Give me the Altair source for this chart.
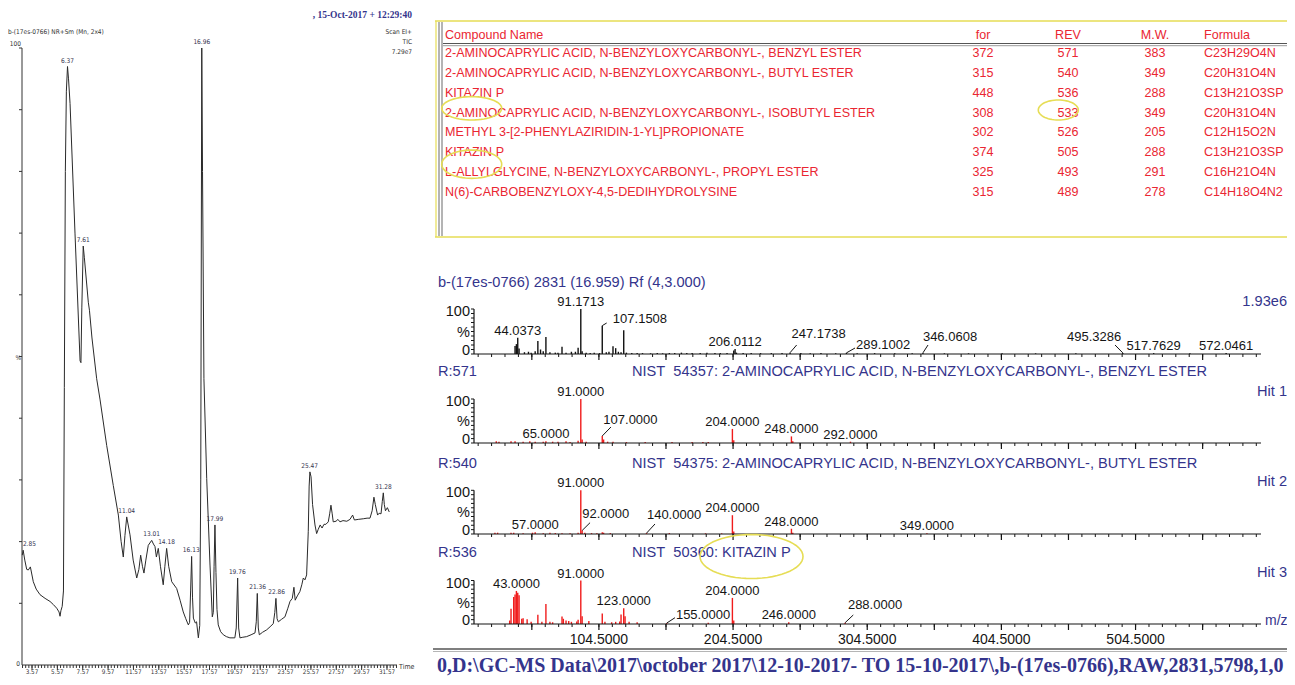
import math
import altair as alt
import pandas as pd

# ---------------------------------------------------------------- data
# TIC chromatogram trace (time in min, relative intensity %)
tic_points = [
    (2.80, 17.8), (2.87, 18.6), (3.00, 17.0), (3.15, 15.5), (3.28, 15.4), (3.44, 15.9),
    (3.67, 13.5), (3.90, 12.3), (4.20, 11.4), (4.60, 10.8), (4.99, 10.3), (5.25, 9.8),
    (5.52, 9.2), (5.70, 8.6), (5.78, 7.9), (5.85, 8.8), (5.95, 9.5), (6.05, 12.0),
    (6.12, 45.0), (6.20, 80.0), (6.28, 93.0), (6.37, 97.0), (6.45, 95.0), (6.57, 91.0),
    (6.96, 70.0), (7.36, 49.3), (7.43, 49.0), (7.50, 58.0), (7.61, 67.9), (7.70, 66.0),
    (8.01, 58.8), (8.10, 57.5), (8.30, 53.0), (8.67, 46.4), (8.93, 43.1), (9.46, 35.6),
    (9.98, 29.1), (10.38, 24.3), (10.60, 20.0), (10.77, 17.5), (10.90, 21.0), (11.04, 24.0),
    (11.30, 21.1), (11.55, 17.0), (11.83, 14.1), (12.00, 15.5), (12.14, 17.8), (12.28, 16.0),
    (12.40, 14.9), (12.55, 17.0), (12.74, 19.4), (13.01, 20.2), (13.15, 19.6), (13.27, 19.2),
    (13.38, 17.5), (13.53, 18.9), (13.70, 16.0), (13.92, 13.0), (14.05, 16.0), (14.19, 18.9),
    (14.35, 16.0), (14.59, 13.5), (14.98, 12.4), (15.25, 10.5), (15.50, 8.6), (15.70, 7.5),
    (15.90, 6.5), (16.00, 6.9), (16.08, 12.0), (16.16, 17.6), (16.23, 11.0), (16.30, 7.6),
    (16.45, 6.8), (16.55, 7.0), (16.69, 4.4), (16.80, 6.4), (16.88, 30.0), (16.96, 100.0),
    (17.02, 80.0), (17.13, 46.4), (17.35, 30.2), (17.61, 16.2), (17.79, 7.8), (17.87, 8.5),
    (17.93, 16.0), (18.00, 22.7), (18.08, 15.0), (18.16, 9.0), (18.26, 6.5), (18.45, 5.4),
    (18.66, 4.9), (18.90, 4.6), (19.18, 4.4), (19.57, 4.4), (19.68, 6.0), (19.79, 14.1),
    (19.87, 6.0), (19.97, 4.4), (20.20, 4.5), (20.50, 4.6), (20.85, 4.9), (21.16, 5.2),
    (21.26, 7.0), (21.34, 11.6), (21.42, 6.0), (21.50, 4.9), (21.75, 5.3), (22.08, 5.7),
    (22.35, 6.2), (22.60, 6.7), (22.72, 8.5), (22.81, 10.8), (22.90, 7.5), (23.00, 7.0),
    (23.25, 7.4), (23.52, 7.8), (23.75, 9.2), (23.92, 10.3), (24.10, 10.8), (24.23, 12.6),
    (24.33, 10.5), (24.50, 11.2), (24.70, 11.9), (24.85, 13.0), (24.97, 14.1), (25.10, 13.8),
    (25.23, 14.6), (25.36, 21.6), (25.43, 29.0), (25.49, 31.3), (25.58, 30.5), (25.70, 26.0),
    (25.89, 22.7), (26.02, 21.3), (26.15, 22.0), (26.30, 22.7), (26.45, 22.2), (26.60, 22.8),
    (26.75, 22.8), (26.94, 23.2), (27.05, 24.5), (27.15, 25.9), (27.25, 24.5), (27.33, 23.2),
    (27.55, 23.3), (27.70, 23.6), (27.86, 23.2), (28.10, 23.4), (28.40, 23.3), (28.65, 23.6),
    (28.86, 24.3), (29.00, 23.5), (29.30, 23.6), (29.70, 23.7), (30.00, 23.8), (30.23, 23.8),
    (30.40, 25.0), (30.54, 27.2), (30.65, 26.0), (30.83, 24.3), (30.95, 24.6), (31.10, 24.5),
    (31.20, 26.5), (31.28, 27.9), (31.36, 26.0), (31.45, 25.0), (31.60, 25.5), (31.75, 24.8),
]
tic_time = [t for t, _ in tic_points]
tic_pct = [p for _, p in tic_points]

peak_times = [2.85, 6.37, 7.61, 11.04, 13.01, 14.18, 16.13, 16.96, 17.99, 19.76, 21.36, 22.86, 25.47, 31.28]
peak_heights = [18.6, 97.0, 67.9, 24.0, 20.2, 18.9, 17.6, 100.0, 22.7, 14.1, 11.6, 10.8, 31.3, 27.9]

# library search hit table
hit_names = [
    "2-AMINOCAPRYLIC ACID, N-BENZYLOXYCARBONYL-, BENZYL ESTER",
    "2-AMINOCAPRYLIC ACID, N-BENZYLOXYCARBONYL-, BUTYL ESTER",
    "KITAZIN P",
    "2-AMINOCAPRYLIC ACID, N-BENZYLOXYCARBONYL-, ISOBUTYL ESTER",
    "METHYL 3-[2-PHENYLAZIRIDIN-1-YL]PROPIONATE",
    "KITAZIN P",
    "L-ALLYLGLYCINE, N-BENZYLOXYCARBONYL-, PROPYL ESTER",
    "N(6)-CARBOBENZYLOXY-4,5-DEDIHYDROLYSINE",
]
hit_for = [372, 315, 448, 308, 302, 374, 325, 315]
hit_rev = [571, 540, 536, 533, 526, 505, 493, 489]
hit_mw = [383, 349, 288, 349, 205, 288, 291, 278]
hit_formula = ["C23H29O4N", "C20H31O4N", "C13H21O3SP", "C20H31O4N",
               "C12H15O2N", "C13H21O3SP", "C16H21O4N", "C14H18O4N2"]

# mass spectra (m/z, relative intensity %)
sample_spec = [
    (42, 18), (43, 22), (44, 36), (45, 12), (49, 4), (52, 5), (54, 3), (57, 6), (59, 29),
    (61, 10), (63, 6), (65, 38), (68, 4), (72, 3), (74, 3), (77, 16), (80, 3), (84, 5),
    (87, 5), (89, 14), (91, 100), (92, 6), (95, 3), (98, 2), (101, 3), (105, 2), (107, 63),
    (110, 4), (112, 5), (115, 17), (117, 13), (119, 5), (121, 4), (123, 53), (125, 3),
    (129, 2), (133, 2), (137, 2), (143, 1.5), (148, 2), (152, 1.5), (157, 2), (161, 2),
    (166, 3), (170, 2), (174, 2), (180, 2), (185, 3), (191, 2), (195, 2), (200, 2),
    (205, 8), (206, 11), (207, 3), (212, 2), (218, 2), (225, 2), (233, 2), (241, 2),
    (247, 3), (255, 2), (262, 1.5), (270, 2), (281, 1.5), (289, 2.5), (297, 1.5), (310, 2),
    (325, 1.5), (338, 1.5), (346, 2.5), (362, 1.5), (380, 1.5), (405, 1.5), (430, 1.5),
    (460, 1.5), (495, 2.5), (518, 2), (545, 1.5), (572, 2),
]
hit1_spec = [
    (28, 4), (30, 3), (39, 4), (42, 4), (48, 3), (53, 4), (57, 3), (63, 3), (65, 4),
    (70, 3), (74, 3), (80, 4), (83, 2), (89, 5), (91, 100), (92, 8), (95, 3), (107, 16),
    (108, 8), (111, 3), (115, 3), (125, 2), (139, 2), (159, 2), (174, 2), (182, 2),
    (186, 2), (204, 32), (205, 6), (248, 15), (249, 4), (292, 3),
]
hit2_spec = [
    (27, 3), (29, 3), (39, 3), (41, 3), (48, 2), (55, 3), (57, 4), (63, 2), (68, 3),
    (72, 2), (77, 2), (83, 2), (89, 3), (91, 100), (92, 8), (94, 3), (99, 2), (103, 2),
    (107, 4), (108, 3), (113, 2), (140, 2), (157, 2), (184, 1.5), (196, 1.5), (204, 43),
    (205, 6), (248, 12), (249, 3), (349, 2),
]
hit3_spec = [
    (38, 8), (39, 35), (41, 62), (42, 68), (43, 76), (44, 72), (45, 66), (47, 12), (48, 13),
    (51, 11), (54, 5), (59, 21), (62, 5), (65, 46), (68, 5), (70, 4), (77, 17), (78, 12),
    (80, 8), (82, 7), (84, 5), (88, 6), (89, 10), (91, 100), (92, 18), (97, 7), (107, 24),
    (109, 5), (114, 4), (117, 5), (120, 6), (121, 22), (123, 36), (124, 18), (127, 5),
    (133, 4), (155, 2), (186, 3), (204, 60), (205, 8), (246, 4), (288, 3),
]

# peak annotations (label, m/z, intensity)
sample_labels = [("44.0373", 44, 36), ("91.1713", 91, 100), ("107.1508", 107, 63),
                 ("206.0112", 206, 11), ("247.1738", 247, 3), ("289.1002", 289, 2.5),
                 ("346.0608", 346, 2.5), ("495.3286", 495, 2.5), ("517.7629", 518, 2),
                 ("572.0461", 572, 2)]
hit1_labels = [("65.0000", 65, 4), ("91.0000", 91, 100), ("107.0000", 107, 16),
               ("204.0000", 204, 32), ("248.0000", 248, 15), ("292.0000", 292, 3)]
hit2_labels = [("57.0000", 57, 4), ("91.0000", 91, 100), ("92.0000", 92, 8),
               ("140.0000", 140, 2), ("204.0000", 204, 43), ("248.0000", 248, 12),
               ("349.0000", 349, 2)]
hit3_labels = [("43.0000", 43, 76), ("91.0000", 91, 100), ("123.0000", 123, 36),
               ("155.0000", 155, 2), ("204.0000", 204, 60), ("246.0000", 246, 4),
               ("288.0000", 288, 3)]

# ---------------------------------------------------------------- layout / style
OX, OY = 8, 8
W, H = 1279, 669
SANS = "Liberation Sans, Arial, sans-serif"
NARROW = "Liberation Sans Narrow, DejaVu Sans Condensed, Liberation Sans, sans-serif"
SERIF = "Liberation Serif, Times New Roman, serif"
NAVY = "#34348c"
RED_TXT = "#ea2632"
RED_BAR = "#f01c1c"
YELLOW = "#e6dd55"
INK = "#151515"
NAVY_FS = 14.6

# displaced labels: label -> (label x m/z, label y %, leader end m/z, leader end %)
LEADER_LAYOUT = {
    "sample": {"107.1508": (135.1, 77.8, 110.3, 68.9), "247.1738": (268.2, 44.4, 251.9, 20),
               "289.1002": (316.3, 20.0, 295.4, 13.3), "346.0608": (366.2, 37.8, 349.8, 20),
               "495.3286": (473.6, 37.8, 489.2, 20)},
    "hit1": {"107.0000": (128.0, 52.3, 113.5, 36.4)},
    "hit2": {"92.0000": (109.6, 45.8, 97.9, 25.9), "140.0000": (160.5, 43.5, 146.3, 22.9)},
    "hit3": {"155.0000": (182.1, 20.7, 161.2, 14.5), "288.0000": (310.3, 43.7, 294.1, 20.7)},
}


def px(x):
    return x - OX


def py(y):
    return y - OY


ONE = pd.DataFrame({"k": [0]})


def text_at(s, x, y, size, color=INK, align="left", font=SANS, weight="normal", baseline="middle"):
    return alt.Chart(ONE).mark_text(text=s, align=align, baseline=baseline, fontSize=size,
                                    font=font, fontWeight=weight, color=color).encode(
        x=alt.value(px(x)), y=alt.value(py(y)))


def hline(x1, x2, y, color, w):
    return alt.Chart(ONE).mark_rule(color=color, strokeWidth=w).encode(
        x=alt.value(px(x1)), x2=alt.value(px(x2)), y=alt.value(py(y)))


def vline(x, y1, y2, color, w):
    return alt.Chart(ONE).mark_rule(color=color, strokeWidth=w).encode(
        x=alt.value(px(x)), y=alt.value(py(y1)), y2=alt.value(py(y2)))


def ellipse(cx, cy, w, h):
    r = h / w
    n = 60
    pts = [(math.cos(2 * math.pi * i / n), r * math.sin(2 * math.pi * i / n)) for i in range(n)]
    path = "M" + " L".join(f"{a:.4f},{b:.4f}" for a, b in pts) + " Z"
    return alt.Chart(ONE).mark_point(shape=path, size=w * w, filled=False, color=YELLOW,
                                     strokeWidth=1.6, opacity=1).encode(
        x=alt.value(px(cx)), y=alt.value(py(cy)))


# ---------------------------------------------------------------- chromatogram
T_MIN, T_MAX = 2.78, 32.36
cxs = alt.Scale(domain=[T_MIN, T_MAX], range=[px(22), px(397)], nice=False, zero=False)
cys = alt.Scale(domain=[0, 100], range=[py(665), py(48)], nice=False, zero=False)


def CX(f):
    return alt.X(f, type="quantitative", scale=cxs, axis=None)


def CY(f):
    return alt.Y(f, type="quantitative", scale=cys, axis=None)


tic_df = pd.DataFrame({"t": tic_time, "p": tic_pct})
c_line = alt.Chart(tic_df).mark_line(color="#2a2a2a", strokeWidth=1).encode(x=CX("t"), y=CY("p"))
c_axes_df = pd.DataFrame({"t0": [T_MIN], "t1": [T_MAX], "p0": [0], "p1": [100]})
c_yaxis = alt.Chart(c_axes_df).mark_rule(color="#333", strokeWidth=1).encode(
    x=CX("t0"), y=CY("p0"), y2=alt.Y2("p1"))
c_xaxis = alt.Chart(c_axes_df).mark_rule(color="#333", strokeWidth=1).encode(
    x=CX("t0"), x2=alt.X2("t1"), y=CY("p0"))
c_yt = pd.DataFrame({"t": T_MIN, "p": list(range(10, 101, 10))})
c_yticks = alt.Chart(c_yt).mark_tick(orient="horizontal", size=3, thickness=1, xOffset=-1.5,
                                     color="#333", opacity=1).encode(x=CX("t"), y=CY("p"))
c_minor = pd.DataFrame({"t": [2.82 + 0.25 * k for k in range(119)], "p": 0})
c_xminor = alt.Chart(c_minor).mark_tick(orient="vertical", size=3, thickness=1, yOffset=1.5,
                                        color="#333", opacity=1).encode(x=CX("t"), y=CY("p"))
c_major_vals = [3.57 + 2 * k for k in range(15)]
c_major = pd.DataFrame({"t": c_major_vals, "p": 0, "lab": [f"{v:.2f}" for v in c_major_vals]})
c_xmajor = alt.Chart(c_major).mark_tick(orient="vertical", size=5, thickness=1, yOffset=2.5,
                                        color="#333", opacity=1).encode(x=CX("t"), y=CY("p"))
c_xlabels = alt.Chart(c_major).mark_text(fontSize=6.3, font=NARROW, color="#333", dy=7,
                                         baseline="middle").encode(x=CX("t"), y=CY("p"), text="lab:N")
pk_df = pd.DataFrame({"t": peak_times, "p": peak_heights, "lab": [f"{v:.2f}" for v in peak_times]})
c_peaks = alt.Chart(pk_df[pk_df.t > 3]).mark_text(fontSize=6.5, font=NARROW, color="#34344f", dy=-6,
                                                  baseline="middle").encode(x=CX("t"), y=CY("p"), text="lab:N")
c_peak_first = alt.Chart(pk_df[pk_df.t <= 3]).mark_text(fontSize=6.5, font=NARROW, color="#34344f",
                                                        dy=-6, align="left",
                                                        baseline="middle").encode(
    x=CX("t"), y=CY("p"), text="lab:N")

chrom = alt.layer(c_line, c_yaxis, c_xaxis, c_yticks, c_xminor, c_xmajor, c_xlabels, c_peaks, c_peak_first)

chrom_texts = [
    text_at("b-(17es-0766) NR+Sm (Mn, 2x4)", 8, 32, 6.5, "#333", font=NARROW),
    text_at(", 15-Oct-2017 + 12:29:40", 412, 15, 9.5, NAVY, align="right", font=SERIF, weight="bold"),
    text_at("Scan EI+", 412, 32, 6.5, "#333", align="right", font=NARROW),
    text_at("TIC", 412, 42, 6.5, "#333", align="right", font=NARROW),
    text_at("7.29e7", 412, 52, 6.5, "#333", align="right", font=NARROW),
    text_at("100", 21, 44, 6.5, "#333", align="right", font=NARROW),
    text_at("%", 21, 358, 6.5, "#333", align="right", font=NARROW),
    text_at("0", 20, 664, 6.5, "#333", align="right", font=NARROW),
    text_at("Time", 399, 667, 7, "#333", font=NARROW),
]

# ---------------------------------------------------------------- hit table
tys = alt.Scale(domain=[0, 7], range=[py(53.3), py(191.7)], nice=False, zero=False)
tdf = pd.DataFrame({"row": list(range(8)), "name": hit_names,
                    "fo": [str(v) for v in hit_for], "rev": [str(v) for v in hit_rev],
                    "mw": [str(v) for v in hit_mw], "formula": hit_formula})
TFS = 12.55


def tcol(field, x, align):
    return alt.Chart(tdf).mark_text(align=align, baseline="middle", fontSize=TFS, font=SANS,
                                    color=RED_TXT).encode(
        x=alt.value(px(x)), y=alt.Y("row:Q", scale=tys, axis=None), text=f"{field}:N")


table = alt.layer(tcol("name", 445, "left"), tcol("fo", 983, "center"), tcol("rev", 1068, "center"),
                  tcol("mw", 1155, "center"), tcol("formula", 1204, "left"))
table_texts = [
    text_at("Compound Name", 445, 35, TFS, RED_TXT),
    text_at("for", 983, 35, TFS, RED_TXT, align="center"),
    text_at("REV", 1068, 35, TFS, RED_TXT, align="center"),
    text_at("M.W.", 1155, 35, TFS, RED_TXT, align="center"),
    text_at("Formula", 1204, 35, TFS, RED_TXT),
]
table_frame = [
    hline(435, 1295, 21, YELLOW, 1.6),
    hline(435, 1295, 237, YELLOW, 1.6),
    vline(436, 21, 237, YELLOW, 1.2),
    vline(439, 22, 236, "#8c8c8c", 1.3),
    vline(442, 22, 236, "#8c8c8c", 1.3),
    hline(443, 1295, 43.5, "#555", 1.2),
    hline(443, 1295, 45.7, "#9a9a9a", 1.0),
]

# ---------------------------------------------------------------- spectra
MZ_MIN, MZ_MAX = 11.4, 598.0
mzs = alt.Scale(domain=[MZ_MIN, MZ_MAX], range=[px(474), px(1261)], nice=False, zero=False)


def spectrum_panel(points, labels, layout, color, base, top, xlabels=False):
    ys = alt.Scale(domain=[0, 100], range=[py(base), py(top)], nice=False, zero=False)

    def X(f):
        return alt.X(f, type="quantitative", scale=mzs, axis=None)

    def Y(f):
        return alt.Y(f, type="quantitative", scale=ys, axis=None)

    bdf = pd.DataFrame(points, columns=["mz", "h"])
    bdf["z"] = 0
    bars = alt.Chart(bdf).mark_rule(color=color, strokeWidth=1.4).encode(x=X("mz"), y=Y("h"), y2=alt.Y2("z"))
    adf = pd.DataFrame({"x0": [MZ_MIN], "x1": [MZ_MAX], "y0": [0], "y1": [100]})
    xaxis = alt.Chart(adf).mark_rule(color=INK, strokeWidth=1.2).encode(x=X("x0"), x2=alt.X2("x1"), y=Y("y0"))
    yaxis = alt.Chart(adf).mark_rule(color=INK, strokeWidth=1.2).encode(x=X("x0"), y=Y("y0"), y2=alt.Y2("y1"))
    ytdf = pd.DataFrame({"x": MZ_MIN, "p": list(range(0, 101, 10))})
    yticks = alt.Chart(ytdf).mark_tick(orient="horizontal", size=3, thickness=1, xOffset=-1.5,
                                       color=INK, opacity=1).encode(x=X("x"), y=Y("p"))
    mdf = pd.DataFrame({"m": [14.5 + 10 * k for k in range(59)], "p": 0})
    minor = alt.Chart(mdf).mark_tick(orient="vertical", size=3, thickness=1, yOffset=1.5,
                                     color=INK, opacity=1).encode(x=X("m"), y=Y("p"))
    Mdf = pd.DataFrame({"m": [54.5 + 50 * k for k in range(11)], "p": 0})
    major = alt.Chart(Mdf).mark_tick(orient="vertical", size=6, thickness=1.2, yOffset=3,
                                     color=INK, opacity=1).encode(x=X("m"), y=Y("p"))
    above = [(l, m, h) for (l, m, h) in labels if l not in layout]
    moved = [(l, m, h) + layout[l] for (l, m, h) in labels if l in layout]
    ab_df = pd.DataFrame(above, columns=["lab", "mz", "h"])
    ab = alt.Chart(ab_df).mark_text(fontSize=13, font=SANS, color=INK, dy=-7, baseline="middle").encode(
        x=X("mz"), y=Y("h"), text="lab:N")
    parts = [bars, xaxis, yaxis, yticks, minor, major, ab]
    if moved:
        mv_df = pd.DataFrame(moved, columns=["lab", "mz", "h", "lx", "ly", "ex", "ey"])
        parts.append(alt.Chart(mv_df).mark_text(fontSize=13, font=SANS, color=INK, baseline="middle").encode(
            x=X("lx"), y=Y("ly"), text="lab:N"))
        parts.append(alt.Chart(mv_df).mark_rule(color=INK, strokeWidth=1).encode(
            x=X("mz"), y=Y("h"), x2=alt.X2("ex"), y2=alt.Y2("ey")))
    yl_df = pd.DataFrame({"t": ["100", "%", "0"], "p": [93, 47, 6]})
    parts.append(alt.Chart(yl_df).mark_text(fontSize=14.5, font=SANS, color=INK, align="right",
                                            baseline="middle").encode(
        x=alt.value(px(470)), y=Y("p"), text="t:N"))
    if xlabels:
        xl_vals = [104.5, 204.5, 304.5, 404.5, 504.5]
        xl_df = pd.DataFrame({"m": xl_vals, "p": 0, "lab": [f"{v:.4f}" for v in xl_vals]})
        parts.append(alt.Chart(xl_df).mark_text(fontSize=14, font=SANS, color=INK, dy=16,
                                                baseline="middle").encode(
            x=X("m"), y=Y("p"), text="lab:N"))
    return alt.layer(*parts)


p1 = spectrum_panel(sample_spec, sample_labels, LEADER_LAYOUT["sample"], "#111111", 354, 309)
p2 = spectrum_panel(hit1_spec, hit1_labels, LEADER_LAYOUT["hit1"], RED_BAR, 443, 399)
p3 = spectrum_panel(hit2_spec, hit2_labels, LEADER_LAYOUT["hit2"], RED_BAR, 534, 490.3)
p4 = spectrum_panel(hit3_spec, hit3_labels, LEADER_LAYOUT["hit3"], RED_BAR, 624, 580.5, xlabels=True)

spec_texts = [
    text_at("b-(17es-0766) 2831 (16.959) Rf (4,3.000)", 438, 283, NAVY_FS, NAVY),
    text_at("1.93e6", 1287, 302, NAVY_FS, NAVY, align="right"),
    text_at("R:571", 438, 372, NAVY_FS, NAVY),
    text_at("NIST\u00a0 54357: 2-AMINOCAPRYLIC ACID, N-BENZYLOXYCARBONYL-, BENZYL ESTER", 632, 372, NAVY_FS, NAVY),
    text_at("Hit 1", 1287, 392, NAVY_FS, NAVY, align="right"),
    text_at("R:540", 438, 464, NAVY_FS, NAVY),
    text_at("NIST\u00a0 54375: 2-AMINOCAPRYLIC ACID, N-BENZYLOXYCARBONYL-, BUTYL ESTER", 632, 464, NAVY_FS, NAVY),
    text_at("Hit 2", 1287, 482, NAVY_FS, NAVY, align="right"),
    text_at("R:536", 438, 552.5, NAVY_FS, NAVY),
    text_at("NIST\u00a0 50360: KITAZIN P", 632, 552.5, NAVY_FS, NAVY),
    text_at("Hit 3", 1287, 573, NAVY_FS, NAVY, align="right"),
    text_at("m/z", 1265, 621, 14, NAVY),
    text_at(r"0,D:\GC-MS Data\2017\october 2017\12-10-2017- TO 15-10-2017\,b-(17es-0766),RAW,2831,5798,1,0",
            437, 665.5, 20, NAVY, font=SERIF, weight="bold"),
]
spec_frame = [
    hline(433, 1295, 649, "#555", 1.5),
    hline(433, 1295, 651.5, "#b5b5b5", 1.0),
]

ellipses = [
    ellipse(471.7, 108.3, 60, 23.3),
    ellipse(471.7, 164.2, 60, 28.3),
    ellipse(1058.3, 110, 40, 20),
    ellipse(751.5, 556.5, 103, 44),
]

chart = alt.layer(
    chrom, table, p1, p2, p3, p4,
    *chrom_texts, *table_texts, *table_frame, *spec_texts, *spec_frame, *ellipses,
).resolve_scale(x="independent", y="independent").properties(
    width=W, height=H, padding=0, autosize=alt.AutoSizeParams(type="none"),
    background="white",
).configure_view(stroke=None)

chart.save("out.html", embed_options={"renderer": "svg", "actions": False})
